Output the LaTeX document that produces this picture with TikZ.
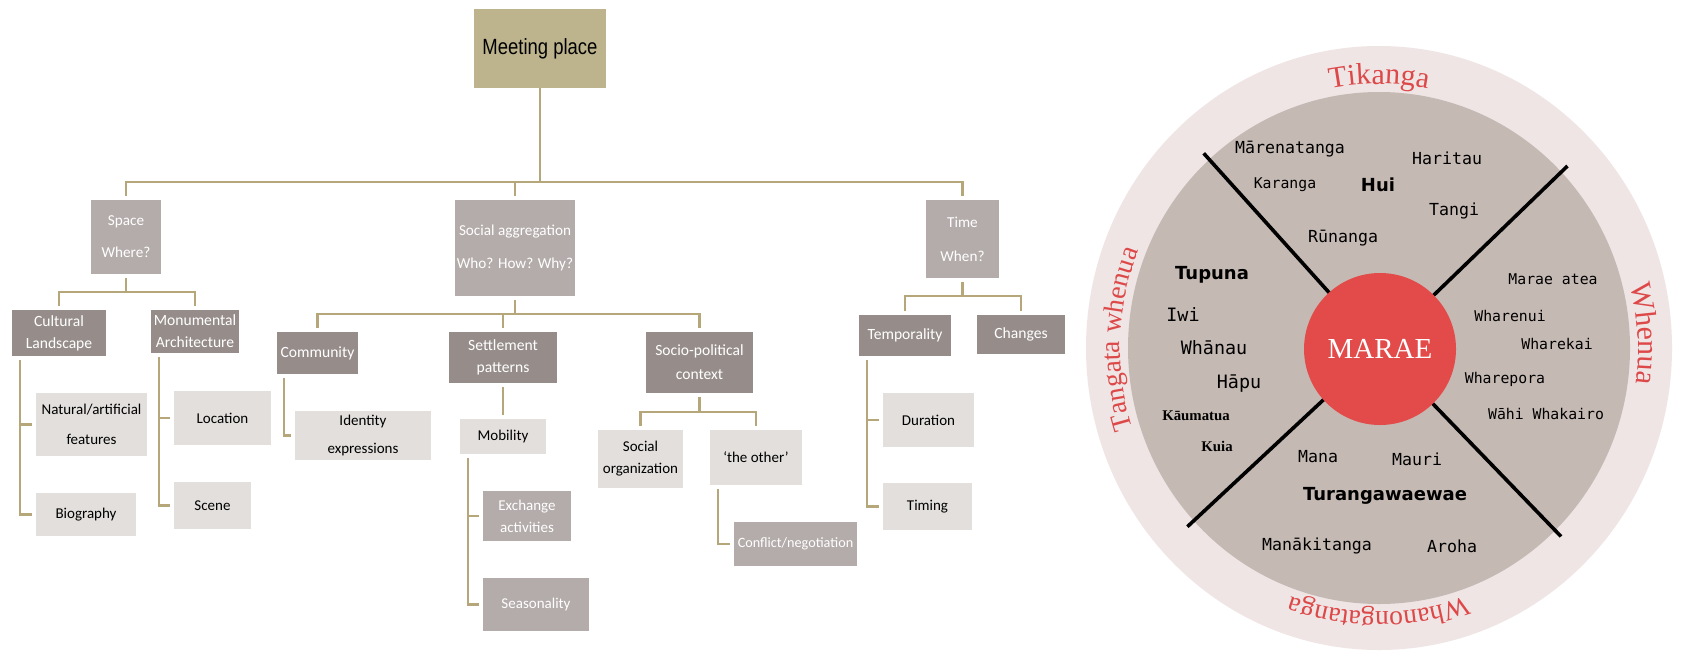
\documentclass[tikz,border=0pt]{standalone}
\usepackage{fontspec}
\setmainfont{Carlito}
\newfontfamily\narrowfont[FakeStretch=0.84]{Liberation Sans}
\newfontfamily\monofont{DejaVu Sans Mono}
\newfontfamily\dejafont{DejaVu Sans}
\newfontfamily\seriffont{Liberation Serif}
\usepackage{tikz}
\usetikzlibrary{calc,decorations.text}
\usepackage{xcolor}
\definecolor{meetfill}{RGB}{189,179,140}
\definecolor{headfill}{RGB}{180,172,170}
\definecolor{darkfill}{RGB}{150,141,139}
\definecolor{lightfill}{RGB}{226,223,221}
\definecolor{linecol}{RGB}{181,167,121}
\definecolor{ringfill}{RGB}{239,229,229}
\definecolor{diskfill}{RGB}{197,185,179}
\definecolor{maraered}{RGB}{227,74,74}
\definecolor{ringred}{RGB}{221,72,72}
\newcommand{\ringfmt}{\seriffont\fontsize{15}{18}\selectfont\color{ringred}}
\newcommand{\ringfmtsm}{\seriffont\fontsize{13.8}{17}\selectfont\color{ringred}}

\begin{document}
\begin{tikzpicture}[x=0.5pt,y=-0.5pt]
\tikzstyle{box} = [rectangle, inner sep=0.5pt, align=center]
\tikzstyle{rootbox} = [box, fill=meetfill, font=\narrowfont\fontsize{11}{13}\selectfont]
\tikzstyle{headbox} = [box, fill=headfill, text=white, font=\fontsize{7.6}{9}\selectfont]
\tikzstyle{darkbox} = [box, fill=darkfill, text=white, font=\fontsize{7.8}{9.4}\selectfont]
\tikzstyle{lightbox} = [box, fill=lightfill, text=black, font=\fontsize{7.5}{9}\selectfont]
\tikzstyle{midbox} = [box, fill=headfill, text=white, font=\fontsize{7.5}{9}\selectfont]
\tikzstyle{link} = [draw=linecol, line width=1.1pt, shorten <=2pt, shorten >=2pt]
\tikzstyle{word} = [inner sep=0pt, font=\monofont\fontsize{8.3}{10}\selectfont]
\tikzstyle{wordsm} = [inner sep=0pt, font=\monofont\fontsize{7.4}{9}\selectfont]
\tikzstyle{wordlg} = [inner sep=0pt, font=\monofont\fontsize{9.2}{11}\selectfont]
\tikzstyle{wordbf} = [inner sep=0pt, font=\dejafont\bfseries\fontsize{9}{11}\selectfont]
\tikzstyle{wordrm} = [inner sep=0pt, font=\seriffont\bfseries\fontsize{7.4}{9}\selectfont]

\useasboundingbox (0,0) rectangle (1684,653);
\fill[white] (0,0) rectangle (1684,653);

% tree, top
\node[rootbox, minimum width=66pt, minimum height=39.5pt] (meet) at (540,48.5) {Meeting place};
% row 1
\node[headbox, minimum width=35pt, minimum height=37pt] (space) at (126,237) {Space\\[7pt]Where?};
\node[headbox, minimum width=60pt, minimum height=48pt] (social) at (515,248) {Social aggregation\\[7.5pt]Who? How? Why?};
\node[headbox, minimum width=36.5pt, minimum height=39pt] (time) at (962.5,239) {Time\\[8pt]When?};
% row 2
\node[darkbox, minimum width=47pt, minimum height=23pt] (cult) at (59,333) {Cultural\\[1.5pt]Landscape};
\node[darkbox, minimum width=44pt, minimum height=21.5pt] (monu) at (195,331.5) {Monumental\\[1.5pt]Architecture};
\node[darkbox, minimum width=40.5pt, minimum height=21pt] (comm) at (317.5,353) {Community};
\node[darkbox, minimum width=54pt, minimum height=25.5pt] (settle) at (503,357.5) {Settlement\\[1.5pt]patterns};
\node[darkbox, minimum width=53.5pt, minimum height=30.5pt] (socio) at (699.5,362.5) {Socio-political\\[2.5pt]context};
\node[darkbox, minimum width=46pt, minimum height=20.5pt] (tempo) at (905,335.5) {Temporality};
\node[darkbox, minimum width=44pt, minimum height=19.5pt] (chg) at (1021,334.5) {Changes};
% row 3
\node[lightbox, minimum width=55.5pt, minimum height=31.5pt] (natur) at (91.5,424.5) {Natural/artificial\\[6pt]features};
\node[lightbox, minimum width=50pt, minimum height=21.5pt] (bio) at (86,514.5) {Biography};
\node[lightbox, minimum width=48.5pt, minimum height=27pt] (loc) at (222.5,418) {Location};
\node[lightbox, minimum width=38.5pt, minimum height=23.5pt] (scene) at (212.5,505.5) {Scene};
\node[lightbox, minimum width=68pt, minimum height=24.5pt] (ident) at (363,435.5) {Identity\\[5pt]expressions};
\node[lightbox, minimum width=43pt, minimum height=17.5pt] (mobil) at (503,436.5) {Mobility};
\node[midbox, minimum width=44pt, minimum height=25pt] (exch) at (527,516) {Exchange\\[2pt]activities};
\node[midbox, minimum width=53pt, minimum height=26.5pt] (season) at (536,604.5) {Seasonality};
\node[lightbox, minimum width=42.5pt, minimum height=29pt] (sorg) at (640.5,459) {Social\\[2pt]organization};
\node[lightbox, minimum width=46pt, minimum height=27.5pt] (other) at (756,457.5) {‘the other’};
\node[midbox, minimum width=61.5pt, minimum height=22pt, font=\fontsize{7.1}{9}\selectfont] (confl) at (795.5,544) {Conflict/negotiation};
\node[lightbox, minimum width=45.5pt, minimum height=27pt] (durat) at (928.5,420) {Duration};
\node[lightbox, minimum width=44.5pt, minimum height=23.5pt] (timing) at (927.5,506.5) {Timing};

% connectors
\coordinate (bus1) at (0,182);
\coordinate (bus2) at (0,292);
\coordinate (bus3) at (0,314);
\coordinate (bus4) at (0,296);
\coordinate (bus5) at (0,412);
\foreach \n in {space,social,time}
  \path[link, shorten <=0pt] (meet.south) |- (bus1 -| \n.north) -- (\n.north);
\foreach \n in {cult,monu}
  \path[link] (space.south) |- (bus2 -| \n.north) -- (\n.north);
\foreach \n in {comm,settle,socio}
  \path[link] (social.south) |- (bus3 -| \n.north) -- (\n.north);
\foreach \n in {tempo,chg}
  \path[link] (time.south) |- (bus4 -| \n.north) -- (\n.north);
\foreach \n in {sorg,other}
  \path[link] (socio.south) |- (bus5 -| \n.north) -- (\n.north);
\foreach \n in {natur,bio}
  \path[link] ([xshift=4pt]cult.south west) |- (\n.west);
\foreach \n in {loc,scene}
  \path[link] ([xshift=4pt]monu.south west) |- (\n.west);
\path[link] ([xshift=3.5pt]comm.south west) |- (ident.west);
\path[link] (settle.south) -- (mobil.north);
\foreach \n in {exch,season}
  \path[link] ([xshift=4pt]mobil.south west) |- (\n.west);
\path[link] ([xshift=4pt]other.south west) |- (confl.west);
\foreach \n in {durat,timing}
  \path[link] ([xshift=4pt]tempo.south west) |- (\n.west);

% marae circle
\coordinate (c) at (1379,348);
\fill[ringfill] (c) ellipse [x radius=146.5pt, y radius=151pt];
\fill[diskfill] (c) ellipse [x radius=125.5pt, y radius=128pt];
\foreach \a in {132,44,223,314}
  \draw[line width=1.8pt] ($(c)+(\a:30pt)$) -- ($(c)+(\a:131pt)$);
\node[circle, fill=maraered, minimum size=76pt, inner sep=0pt, text=white,
  font=\seriffont\fontsize{14.5}{16}\selectfont] (marae) at (1380,349) {MARAE};

\path[decorate, decoration={text along path, text align=center, text={|\ringfmt|Tikanga}}]
  ($(c)+(130:129.5pt and 132pt)$) arc[start angle=130, end angle=50, x radius=129.5pt, y radius=132pt];
\path[decorate, decoration={text along path, text align=center, text={|\ringfmt|Whenua}}]
  ($(c)+(43:129.5pt and 132pt)$) arc[start angle=43, end angle=-37, x radius=129.5pt, y radius=132pt];
\path[decorate, decoration={text along path, text align=center, text={|\ringfmtsm|Whanongatanga}}]
  ($(c)+(315:129.5pt and 132pt)$) arc[start angle=315, end angle=225, x radius=129.5pt, y radius=132pt];
\path[decorate, decoration={text along path, text align=center, text={|\ringfmtsm|Tangata whenua}}]
  ($(c)+(228:129.5pt and 132pt)$) arc[start angle=228, end angle=128, x radius=129.5pt, y radius=132pt];

% words
\node[word] (maren) at (1290,149) {Mārenatanga};
\node[word] (harit) at (1447,158) {Haritau};
\node[wordsm] (karan) at (1285,185) {Karanga};
\node[wordbf] (hui) at (1378,185) {Hui};
\node[word] (tangi) at (1454,211) {Tangi};
\node[word] (runan) at (1343,238) {Rūnanga};
\node[wordbf] (tupun) at (1212,275) {Tupuna};
\node[wordlg] (iwi) at (1183,315) {Iwi};
\node[wordlg] (whanau) at (1214,348) {Whānau};
\node[wordlg] (hapu) at (1239,384) {Hāpu};
\node[wordrm] (kaum) at (1196,416) {Kāumatua};
\node[wordrm] (kuia) at (1217,446) {Kuia};
\node[wordsm] (atea) at (1553,279) {Marae atea};
\node[wordsm] (wnui) at (1510,316) {Wharenui};
\node[wordsm] (wkai) at (1557,344) {Wharekai};
\node[wordsm] (wpora) at (1505,379) {Wharepora};
\node[wordsm] (wahi) at (1546,414) {Wāhi Whakairo};
\node[word] (mana) at (1318,457) {Mana};
\node[word] (mauri) at (1417,459) {Mauri};
\node[wordbf] (turan) at (1385,496) {Turangawaewae};
\node[word] (manak) at (1317,546) {Manākitanga};
\node[word] (aroha) at (1452,546) {Aroha};
\end{tikzpicture}
\end{document}
